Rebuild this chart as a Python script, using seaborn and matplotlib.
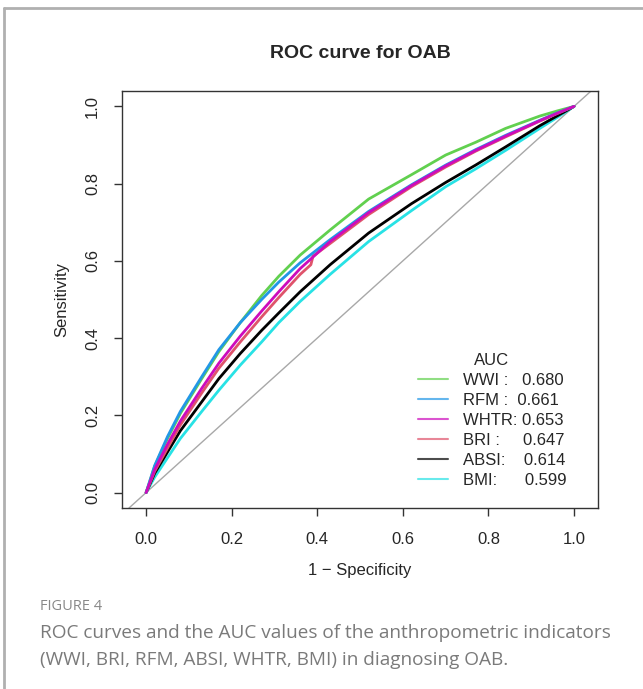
import matplotlib
matplotlib.use("Agg")
import matplotlib.pyplot as plt
import seaborn as sns
import pandas as pd
from matplotlib.lines import Line2D

# 1 - specificity grid shared by most curves
fpr = [0, 0.02, 0.05, 0.08, 0.13, 0.17, 0.22, 0.27, 0.31, 0.36, 0.43, 0.52,
       0.62, 0.70, 0.77, 0.84, 0.92, 0.96, 1.0]

sens_wwi = [0, 0.068, 0.14, 0.205, 0.295, 0.365, 0.44, 0.51, 0.56, 0.615, 0.68, 0.76,
            0.823, 0.874, 0.907, 0.943, 0.975, 0.988, 1.0]
sens_rfm = [0, 0.07, 0.145, 0.21, 0.30, 0.37, 0.44, 0.50, 0.545, 0.595, 0.655, 0.728,
            0.797, 0.848, 0.888, 0.925, 0.964, 0.983, 1.0]
sens_whtr = [0, 0.06, 0.125, 0.185, 0.27, 0.335, 0.405, 0.47, 0.52, 0.58, 0.65, 0.725,
             0.795, 0.846, 0.886, 0.923, 0.963, 0.982, 1.0]
sens_absi = [0, 0.05, 0.105, 0.16, 0.235, 0.295, 0.36, 0.42, 0.465, 0.52, 0.59, 0.672,
             0.748, 0.803, 0.848, 0.895, 0.95, 0.975, 1.0]
sens_bmi = [0, 0.04, 0.09, 0.14, 0.21, 0.265, 0.33, 0.39, 0.44, 0.495, 0.565, 0.65,
            0.73, 0.792, 0.838, 0.886, 0.943, 0.971, 1.0]

# BRI has its own grid (small jump near 0.39)
fpr_bri = [0, 0.02, 0.05, 0.08, 0.13, 0.17, 0.22, 0.27, 0.31, 0.36, 0.385, 0.39, 0.43, 0.52,
           0.62, 0.70, 0.77, 0.84, 0.92, 0.96, 1.0]
sens_bri = [0, 0.055, 0.115, 0.175, 0.258, 0.322, 0.39, 0.455, 0.505, 0.565, 0.59, 0.612, 0.645, 0.72,
            0.792, 0.843, 0.884, 0.921, 0.962, 0.981, 1.0]

labels = ["WWI :   0.680", "RFM :  0.661", "WHTR: 0.653", "BRI :     0.647", "ABSI:    0.614", "BMI:      0.599"]
colors = ["#61D04F", "#2297E6", "#CD0BBC", "#DF536B", "black", "#28E2E5"]

sns.set_style("ticks")
plt.rcParams["font.family"] = ["Liberation Sans", "DejaVu Sans"]

fig = plt.figure(figsize=(6.43, 6.89), dpi=100)
ax = fig.add_axes([0.190, 0.2627, 0.740, 0.6053])

df_bri = pd.DataFrame({"fpr": fpr_bri, "sens": sens_bri})
df = pd.DataFrame({"fpr": fpr, "WWI": sens_wwi, "RFM": sens_rfm, "WHTR": sens_whtr,
                   "ABSI": sens_absi, "BMI": sens_bmi})

ax.axline((0, 0), (1, 1), color="#A8A8A8", lw=1, zorder=1)
# ordre de tracé : cyan, noir, rouge, vert, bleu, magenta au-dessus
sns.lineplot(data=df, x="fpr", y="BMI", color=colors[5], lw=2, ax=ax, sort=False)
sns.lineplot(data=df, x="fpr", y="ABSI", color=colors[4], lw=2, ax=ax, sort=False)
sns.lineplot(data=df_bri, x="fpr", y="sens", color=colors[3], lw=2, ax=ax, sort=False)
sns.lineplot(data=df, x="fpr", y="WWI", color=colors[0], lw=2, ax=ax, sort=False)
sns.lineplot(data=df, x="fpr", y="RFM", color=colors[1], lw=2, ax=ax, sort=False)
sns.lineplot(data=df, x="fpr", y="WHTR", color=colors[2], lw=2, ax=ax, sort=False)

ax.set_xlim(-0.056, 1.056)
ax.set_ylim(-0.04, 1.04)
ticks = [0.0, 0.2, 0.4, 0.6, 0.8, 1.0]
ax.set_xticks(ticks)
ax.set_yticks(ticks)
ax.set_xticklabels([f"{t:.1f}" for t in ticks], fontsize=12)
ax.set_yticklabels([f"{t:.1f}" for t in ticks], fontsize=12, rotation=90, va="center")
ax.tick_params(length=6, width=1, color="#333333")
ax.tick_params(axis="x", pad=11)
ax.tick_params(axis="y", pad=10)
for s in ax.spines.values():
    s.set_color("#333333")
    s.set_linewidth(1)
ax.set_xlabel("1 \u2212 Specificity", fontsize=12, labelpad=12)
ax.set_ylabel("Sensitivity", fontsize=12, labelpad=11)
ax.set_title("ROC curve for OAB", fontsize=14, fontweight="bold", pad=24)

handles = [Line2D([0], [0], color=c, lw=1.5, alpha=0.7) for c in colors]
leg = ax.legend(handles, labels, title="AUC", frameon=False, fontsize=12,
                title_fontsize=12, loc="lower right", bbox_to_anchor=(0.965, 0.013),
                handlelength=1.8, handletextpad=0.9, labelspacing=0.3)

# cadre de page et légende de figure
fig.add_artist(Line2D([4 / 643, 4 / 643], [0, 1 - 8 / 689], color="#B0B0B0", lw=2))
fig.add_artist(Line2D([4 / 643, 1], [1 - 8 / 689, 1 - 8 / 689], color="#B0B0B0", lw=2))
fig.text(40 / 643, 1 - 606 / 689, "FIGURE 4", fontsize=10.5, color="#888888",
         family=["Open Sans", "DejaVu Sans"], va="center")
fig.text(40 / 643, 1 - 633 / 689, "ROC curves and the AUC values of the anthropometric indicators",
         fontsize=13.7, color="#7A7A7A", family=["Open Sans", "DejaVu Sans"], va="center")
fig.text(40 / 643, 1 - 660 / 689, "(WWI, BRI, RFM, ABSI, WHTR, BMI) in diagnosing OAB.",
         fontsize=13.7, color="#7A7A7A", family=["Open Sans", "DejaVu Sans"], va="center")

plt.savefig("out.png", dpi=100)
